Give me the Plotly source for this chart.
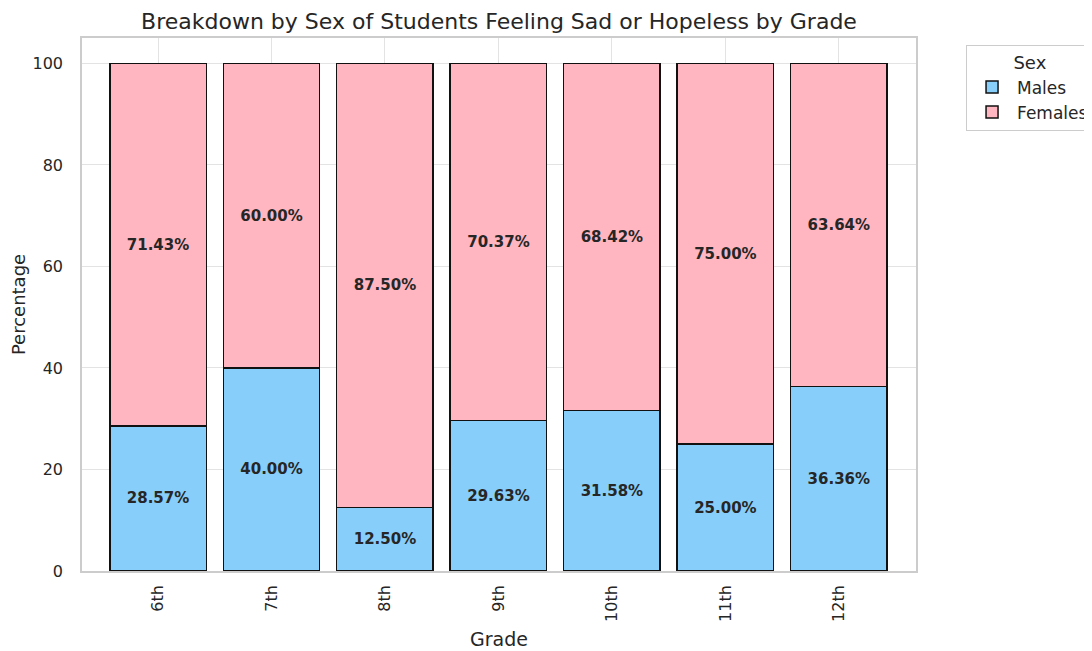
import plotly.graph_objects as go

grades = ["6th", "7th", "8th", "9th", "10th", "11th", "12th"]
males = [28.57, 40.00, 12.50, 29.63, 31.58, 25.00, 36.36]
females = [71.43, 60.00, 87.50, 70.37, 68.42, 75.00, 63.64]
yticks = [0, 20, 40, 60, 80, 100]

FONT = "DejaVu Sans"
TXT = "#262626"

fig = go.Figure()
for name, vals, color in [("Males", males, "#87CEFA"), ("Females", females, "#FFB6C1")]:
    fig.add_trace(go.Bar(
        x=grades, y=vals, name=name, width=0.85,
        marker=dict(color=color, line=dict(color="#111111", width=1.5)),
        text=[f"{v:.2f}%" for v in vals],
        textposition="inside", insidetextanchor="middle",
        textangle=0,
        textfont=dict(family=FONT, size=15, color=TXT, weight="bold"),
    ))

W = 1110
fig.update_layout(
    barmode="stack",
    width=W, height=651,
    margin=dict(l=74, r=W - 908, t=30, b=88, autoexpand=False),
    paper_bgcolor="white", plot_bgcolor="white",
    font=dict(family=FONT, color=TXT),
    title=dict(text="Breakdown by Sex of Students Feeling Sad or Hopeless by Grade",
               x=(74 + 908) / 2 / W, xanchor="center", y=0.98, yanchor="middle",
               font=dict(size=22, color=TXT)),
    legend=dict(title=dict(text="Sex", side="top center", font=dict(size=18)),
                x=1.06, xanchor="left", y=0.987, yanchor="top",
                bordercolor="#cccccc", borderwidth=1, bgcolor="white",
                font=dict(size=17), traceorder="normal", itemwidth=40),
    showlegend=True,
)
fig.update_xaxes(
    range=[-0.67, 6.68], tickangle=-90, tickfont=dict(size=16),
    title=dict(text="Grade", font=dict(size=19), standoff=12),
    showgrid=True, gridcolor="#e3e3e3", gridwidth=1,
    showline=True, linecolor="#cccccc", linewidth=1.5, mirror=True,
    ticks="", ticklabelstandoff=6, automargin=False,
)
fig.update_yaxes(
    range=[0, 105], tickvals=yticks, tickfont=dict(size=16),
    title=dict(text="Percentage", font=dict(size=18), standoff=3),
    showgrid=True, gridcolor="#e3e3e3", gridwidth=1,
    showline=True, linecolor="#cccccc", linewidth=1.5, mirror=True,
    zeroline=False, ticks="", ticklabelstandoff=14, automargin=False,
)
fig.write_html("out.html")
